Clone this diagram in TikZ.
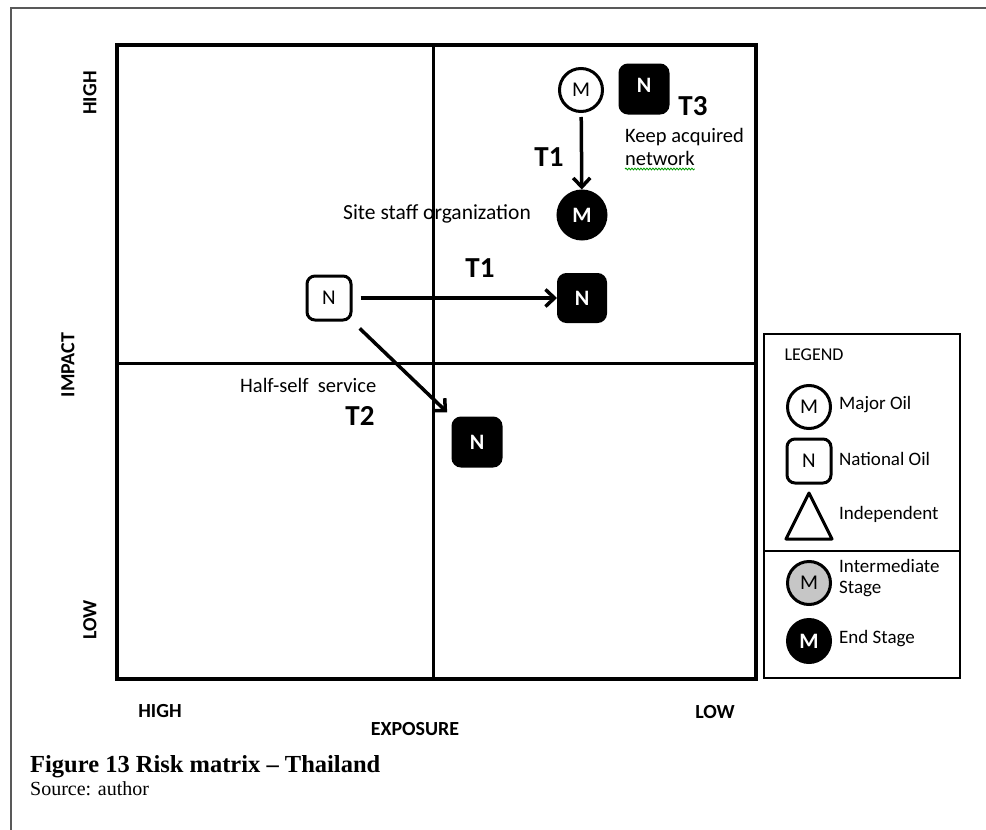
\documentclass[tikz,border=0pt]{standalone}
\usepackage{fontspec}
\setsansfont{Carlito}
\newfontfamily\capfont[Ligatures=TeX]{Liberation Serif}
\usetikzlibrary{arrows.meta,decorations.pathmorphing}

\begin{document}
\begin{tikzpicture}[x=1pt, y=-1pt, font=\sffamily\fontsize{20}{24}\selectfont,
    >={Straight Barb[length=9pt,width=17pt]},
    every node/.style={inner sep=0pt},
    flow/.style={->, line width=3.5pt, shorten <=4pt},
    mnode/.style={circle, draw, line width=3pt, minimum size=43pt, font=\sffamily\fontsize{21}{21}\selectfont},
    nnode/.style={rectangle, rounded corners=8pt, draw, line width=3pt, minimum size=44pt, font=\sffamily\fontsize{21}{21}\selectfont},
    endm/.style={mnode, fill=black, text=white, font=\sffamily\bfseries\fontsize{22}{22}\selectfont},
    endn/.style={nnode, fill=black, text=white, font=\sffamily\bfseries\fontsize{22}{22}\selectfont},
    tlbl/.style={font=\sffamily\bfseries\fontsize{29}{30}\selectfont},
    axlbl/.style={font=\sffamily\bfseries\fontsize{20}{20}\selectfont},
    leglbl/.style={anchor=base west, font=\sffamily\fontsize{19}{22}\selectfont}]
  \useasboundingbox (0,0) rectangle (986,830);
  % page frame
  \draw[line width=2pt, gray!70!black] (11,830) -- (11,8) -- (986,8);
  % matrix
  \draw[line width=4pt] (117,45) rectangle (756,679);
  \draw[line width=3pt] (433,45) -- (433,679);
  \draw[line width=3pt] (117,363) -- (756,363);
  % axis labels
  \node[axlbl, rotate=90] (impHigh) at (90,93) {HIGH};
  \node[axlbl, rotate=90] (impact) at (68,365) {IMPACT};
  \node[axlbl, rotate=90] (impLow) at (90,620) {LOW};
  \node[axlbl] (expHigh) at (160,711) {HIGH};
  \node[axlbl] (exposure) at (415,729) {EXPOSURE};
  \node[axlbl] (expLow) at (715,712) {LOW};
  % players
  \node[mnode] (majorA) at (581,90) {M};
  \node[endn, minimum size=48pt, text depth=8pt] (natT) at (644,89) {N};
  \node[endm, minimum size=48pt] (majorB) at (582,215) {M};
  \node[nnode] (natA) at (329,298) {N};
  \node[endn, minimum size=47pt] (natB) at (582,298) {N};
  \node[endn, minimum size=48pt] (natC) at (477,442) {N};
  \draw[flow] (majorA) -- (majorB);
  \draw[flow, shorten <=8pt] (natA) -- (natB);
  \draw[flow, shorten <=10pt, shorten >=6pt] (natA.south east) -- (natC.north west);
  % transition labels
  \node[tlbl, anchor=base] (tThree) at (693,115) {T3};
  \node[tlbl, anchor=base] (tOneA) at (549,166) {T1};
  \node[tlbl, anchor=base] (tOneB) at (480,277) {T1};
  \node[tlbl, anchor=base] (tTwo) at (360,425) {T2};
  \node[anchor=base west, font=\sffamily\fontsize{20.5}{22}\selectfont] (keepA) at (625,142) {Keep acquired};
  \node[anchor=base west, font=\sffamily\fontsize{20.5}{22}\selectfont] (keepB) at (625,165) {network};
  \draw[green!60!black, line width=0.8pt, decorate, decoration={snake, amplitude=0.9pt, segment length=3pt}] ([yshift=-4pt]keepB.base west) -- ([yshift=-4pt]keepB.base east);
  \node[anchor=base west, font=\sffamily\fontsize{21.5}{24}\selectfont] (siteStaff) at (343,219) {Site staff organization};
  \node[anchor=base west, font=\sffamily\fontsize{20.5}{22}\selectfont] (halfSelf) at (240,392) {Half-self\ \ service};
  % legend
  \draw[line width=2.5pt] (764,334) rectangle (960,678);
  \draw[line width=1.5pt] (764,551) -- (960,551);
  \node[font=\sffamily\fontsize{18}{18}\selectfont] (legend) at (814,355) {LEGEND};
  \node[mnode] (legMajor) at (809,407) {M};
  \node[leglbl] (legMajorT) at (839,409) {Major Oil};
  \node[nnode] (legNat) at (809,461) {N};
  \node[leglbl] (legNatT) at (839,465) {National Oil};
  \draw[line width=3pt, line join=round] (786,539) -- (809,493) -- (832,539) -- cycle;
  \node[leglbl] (legIndT) at (839,519) {Independent};
  \node[mnode, fill=gray!45] (legInter) at (809,583) {M};
  \node[leglbl] (legInterT) at (839,572) {Intermediate};
  \node[leglbl] (legInterS) at (839,593) {Stage};
  \node[endm] (legEnd) at (809,641) {M};
  \node[leglbl] (legEndT) at (839,643) {End Stage};
  % caption
  \node[anchor=base west, font=\capfont\bfseries\fontsize{24.5}{28}\selectfont] (caption) at (30,772) {Figure 13 Risk matrix -- Thailand};
  \node[anchor=base west, font=\capfont\fontsize{20}{24}\selectfont] (source) at (30,795) {Source: author};
\end{tikzpicture}
\end{document}
